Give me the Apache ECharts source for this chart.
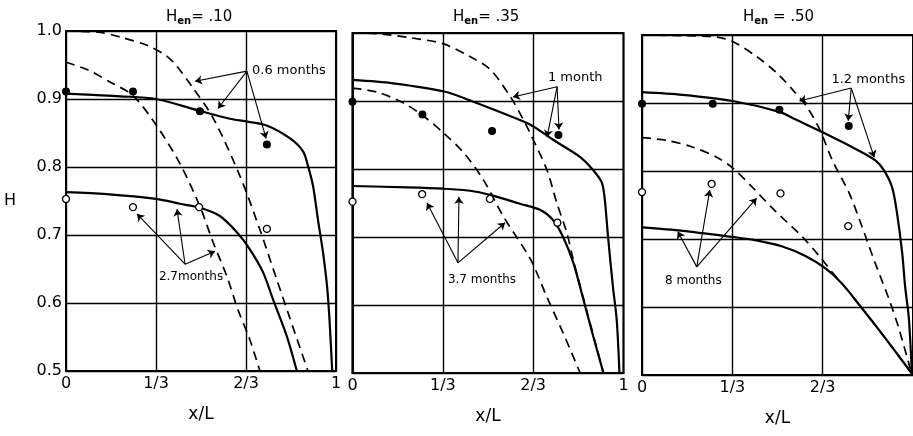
<!DOCTYPE html>
<html><head><meta charset="utf-8">
<script src="https://cdn.jsdelivr.net/npm/echarts@6/dist/echarts.min.js"></script>
<style>html,body{margin:0;padding:0;background:#fff}#c{width:913px;height:436px}</style>
</head><body><div id="c"></div>
<script>
// ---- tick labels & titles ----
const xTickLabels = ['0', '1/3', '2/3', '1'];
const yTickLabels = ['0.5', '0.6', '0.7', '0.8', '0.9', '1.0'];
const panelTitles = ['= .10', '= .35', ' = .50'];

// ---- Panel 1 : H_en = .10 ----
const p1SolidShort = [[0,0.908],[0.1,0.906],[0.2,0.904],[0.333,0.9],[0.5,0.882],[0.607,0.871],[0.667,0.867],[0.743,0.861],[0.83,0.842],[0.878,0.823],[0.896,0.802],[0.915,0.772],[0.933,0.723],[0.952,0.674],[0.967,0.624],[0.976,0.575],[0.986,0.5]];
const p1SolidLong = [[0,0.763],[0.15,0.76],[0.333,0.753],[0.422,0.746],[0.496,0.74],[0.57,0.728],[0.633,0.704],[0.681,0.679],[0.73,0.645],[0.767,0.605],[0.818,0.551],[0.855,0.5]];
const p1DashShort = [[0,1.0],[0.126,0.998],[0.211,0.99],[0.3,0.979],[0.37,0.964],[0.411,0.948],[0.467,0.918],[0.545,0.872],[0.644,0.787],[0.718,0.708],[0.781,0.634],[0.829,0.578],[0.896,0.5]];
const p1DashLong = [[0,0.954],[0.08,0.943],[0.163,0.925],[0.248,0.905],[0.337,0.86],[0.422,0.805],[0.496,0.742],[0.545,0.689],[0.596,0.639],[0.637,0.59],[0.681,0.546],[0.718,0.5]];
const p1Filled = [[0,0.911],[0.248,0.911],[0.496,0.882],[0.744,0.833]];
const p1Open = [[0,0.753],[0.248,0.741],[0.493,0.741],[0.744,0.709]];
const p1Notes = [['0.6 months',0.689,0.942,13],['2.7months',0.344,0.638,12]];
const p1Arrows = [[0.67,0.941,0.478,0.926],[0.67,0.941,0.563,0.886],[0.67,0.941,0.741,0.842],
                  [0.441,0.657,0.263,0.731],[0.441,0.657,0.411,0.738],[0.441,0.657,0.552,0.676]];

// ---- Panel 2 : H_en = .35 ----
const p2SolidShort = [[0,0.931],[0.15,0.926],[0.338,0.914],[0.446,0.899],[0.618,0.872],[0.67,0.862],[0.74,0.843],[0.839,0.818],[0.887,0.799],[0.92,0.78],[0.931,0.755],[0.943,0.7],[0.961,0.627],[0.975,0.578],[0.985,0.5]];
const p2SolidLong = [[0,0.775],[0.2,0.773],[0.336,0.771],[0.434,0.768],[0.507,0.762],[0.618,0.749],[0.692,0.74],[0.74,0.725],[0.777,0.7],[0.815,0.662],[0.852,0.608],[0.889,0.553],[0.926,0.5]];
const p2DashShort = [[0,1.0],[0.092,0.999],[0.214,0.993],[0.336,0.984],[0.435,0.965],[0.509,0.946],[0.583,0.906],[0.631,0.872],[0.655,0.853],[0.717,0.799],[0.754,0.75],[0.791,0.706],[0.815,0.666],[0.852,0.61],[0.889,0.555],[0.926,0.5]];
const p2DashLong = [[0,0.919],[0.092,0.913],[0.188,0.897],[0.258,0.879],[0.336,0.853],[0.41,0.824],[0.483,0.784],[0.557,0.73],[0.657,0.667],[0.717,0.612],[0.777,0.559],[0.84,0.5]];
const p2Filled = [[0,0.899],[0.258,0.88],[0.515,0.856],[0.76,0.85]];
const p2Open = [[0,0.752],[0.257,0.763],[0.507,0.756],[0.756,0.721]];
const p2Notes = [['1 month',0.721,0.934,13],['3.7 months',0.352,0.637,12]];
const p2Arrows = [[0.755,0.921,0.592,0.906],[0.755,0.921,0.718,0.847],[0.755,0.921,0.762,0.858],
                  [0.389,0.662,0.275,0.75],[0.389,0.662,0.393,0.759],[0.389,0.662,0.563,0.721]];

// ---- Panel 3 : H_en = .50 ----
const p3SolidShort = [[0,0.916],[0.15,0.912],[0.335,0.903],[0.507,0.887],[0.566,0.876],[0.676,0.855],[0.776,0.835],[0.86,0.816],[0.893,0.801],[0.923,0.776],[0.941,0.738],[0.96,0.68],[0.971,0.63],[0.985,0.582],[0.996,0.5]];
const p3SolidLong = [[0,0.717],[0.15,0.712],[0.335,0.703],[0.408,0.699],[0.518,0.689],[0.603,0.675],[0.676,0.657],[0.739,0.634],[0.812,0.598],[0.875,0.566],[0.934,0.535],[1.0,0.5]];
const p3DashShort = [[0,1.0],[0.15,0.999],[0.277,0.997],[0.336,0.99],[0.424,0.968],[0.498,0.944],[0.557,0.919],[0.609,0.894],[0.657,0.86],[0.702,0.816],[0.765,0.767],[0.812,0.718],[0.86,0.665],[0.912,0.611],[0.949,0.567],[0.996,0.5]];
const p3DashLong = [[0,0.849],[0.092,0.845],[0.188,0.835],[0.277,0.82],[0.336,0.804],[0.41,0.775],[0.482,0.745],[0.592,0.703],[0.654,0.675],[0.702,0.651],[0.739,0.634],[0.812,0.598],[0.875,0.566],[0.934,0.535],[1.0,0.5]];
const p3Filled = [[0,0.899],[0.261,0.899],[0.507,0.89],[0.763,0.866]];
const p3Open = [[0,0.769],[0.257,0.781],[0.511,0.767],[0.761,0.719]];
const p3Notes = [['1.2 months',0.699,0.934,13],['8 months',0.085,0.639,12]];
const p3Arrows = [[0.772,0.922,0.581,0.903],[0.772,0.922,0.761,0.874],[0.772,0.922,0.857,0.82],
                  [0.202,0.659,0.132,0.711],[0.202,0.659,0.25,0.772],[0.202,0.659,0.423,0.76]];

const panels = [
  {solidS:p1SolidShort, solidL:p1SolidLong, dashS:p1DashShort, dashL:p1DashLong, filled:p1Filled, open:p1Open, notes:p1Notes, arrows:p1Arrows},
  {solidS:p2SolidShort, solidL:p2SolidLong, dashS:p2DashShort, dashL:p2DashLong, filled:p2Filled, open:p2Open, notes:p2Notes, arrows:p2Arrows},
  {solidS:p3SolidShort, solidL:p3SolidLong, dashS:p3DashShort, dashL:p3DashLong, filled:p3Filled, open:p3Open, notes:p3Notes, arrows:p3Arrows}
];

const FONT = 'DejaVu Sans';
const INK = '#000';
const gridBoxes = [
  {left:66, top:31, width:270, height:340},
  {left:352.5, top:33, width:271, height:340},
  {left:642, top:35, width:272, height:340}
];
const titleLefts = [166, 453, 743];

const grid = gridBoxes.map(g => Object.assign({show:true, borderColor:INK, borderWidth:2, backgroundColor:'transparent'}, g));

const xAxis = panels.map((p, i) => ({
  type:'value', gridIndex:i, min:0, max:1, interval:1/3,
  axisLine:{show:true, lineStyle:{color:INK, width:2}},
  axisTick:{show:false},
  splitLine:{show:true, lineStyle:{color:INK, width:1.4}},
  axisLabel:{color:INK, fontFamily:FONT, fontSize:16, margin:5, showMaxLabel: i < 2,
    formatter: v => xTickLabels[Math.round(v * 3)]},
  name:'x/L', nameLocation:'middle', nameGap:35,
  nameTextStyle:{color:INK, fontFamily:FONT, fontSize:17}
}));

const yAxis = panels.map((p, i) => ({
  type:'value', gridIndex:i, min:0.5, max:1.0, interval:0.1,
  axisLine:{show:true, lineStyle:{color:INK, width:2}},
  axisTick:{show:false},
  splitLine:{show:true, lineStyle:{color:INK, width:1.4}},
  axisLabel: i === 0 ? {color:INK, fontFamily:FONT, fontSize:16, margin:4,
      formatter: v => yTickLabels[Math.round((v - 0.5) * 10)]} : {show:false},
  name: i === 0 ? 'H' : '', nameLocation:'middle', nameRotate:0, nameGap:50,
  nameTextStyle:{color:INK, fontFamily:FONT, fontSize:16, padding:[8,0,0,0]}
}));

const series = [];
panels.forEach((p, i) => {
  const base = {xAxisIndex:i, yAxisIndex:i, type:'line', showSymbol:false, symbol:'none',
    smooth:0.3, silent:true, z:3};
  series.push(Object.assign({}, base, {data:p.solidS, lineStyle:{color:INK, width:2.2}}));
  series.push(Object.assign({}, base, {data:p.solidL, lineStyle:{color:INK, width:2.2}}));
  series.push(Object.assign({}, base, {data:p.dashS, lineStyle:{color:INK, width:1.7, type:[9,6]}}));
  series.push(Object.assign({}, base, {data:p.dashL, lineStyle:{color:INK, width:1.7, type:[9,6]}}));
  series.push({type:'scatter', xAxisIndex:i, yAxisIndex:i, data:p.filled, symbol:'circle', symbolSize:8,
    clip:false, silent:true, z:5, itemStyle:{color:INK, opacity:1}});
  series.push({type:'scatter', xAxisIndex:i, yAxisIndex:i, data:p.open, symbol:'circle', symbolSize:7,
    clip:false, silent:true, z:5, itemStyle:{color:'#fff', borderColor:INK, borderWidth:1.3, opacity:1}});
  series.push({type:'scatter', xAxisIndex:i, yAxisIndex:i, silent:true, z:6, symbolSize:0, clip:false,
    itemStyle:{color:INK, opacity:1},
    data:p.notes.map(n => ({name:n[0], value:[n[1], n[2]],
      label:{show:true, position:'right', distance:0, formatter:'{b}', color:INK, opacity:1,
        fontFamily:FONT, fontSize:n[3]}})),
    markLine:{silent:true, symbol:['none','arrow'], symbolSize:7, animation:false,
      lineStyle:{color:INK, width:1.1, type:'solid', opacity:1}, label:{show:false}, emphasis:{disabled:true},
      data:p.arrows.map(a => [{coord:[a[0], a[1]]}, {coord:[a[2], a[3]]}])}
  });
});

const title = panelTitles.map((t, i) => ({
  text:'{h|H}{s|en}{h|' + t + '}', left:titleLefts[i], top:8, padding:0,
  textStyle:{fontWeight:'normal', rich:{
    h:{fontFamily:FONT, fontSize:15, fontWeight:'normal', color:INK},
    s:{fontFamily:FONT, fontSize:10, fontWeight:'bold', color:INK, padding:[8,0,0,0]}
  }}
}));

const chart = echarts.init(document.getElementById('c'), null, {renderer:'canvas'});
chart.setOption({animation:false, backgroundColor:'#fff', title, grid, xAxis, yAxis, series});
</script></body></html>
